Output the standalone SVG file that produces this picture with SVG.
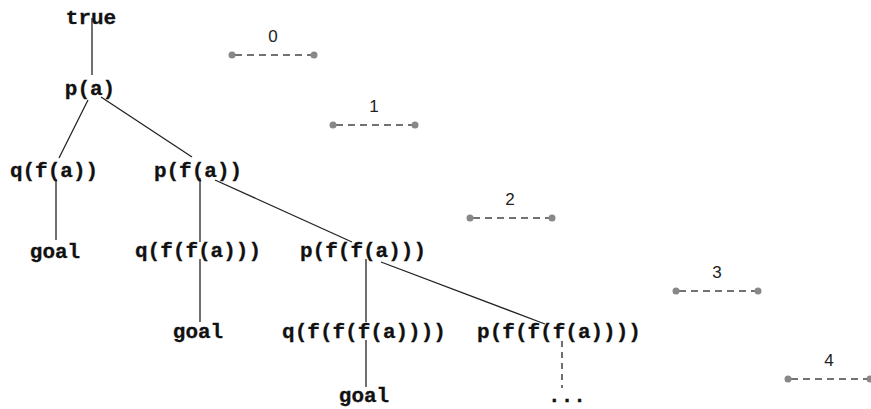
<svg xmlns="http://www.w3.org/2000/svg" width="871" height="409" viewBox="0 0 871 409">
<style>
.t{font-family:"Liberation Mono","Courier New",monospace;font-weight:bold;font-size:21px;fill:#111;text-anchor:middle;stroke:#111;stroke-width:0.3}
.n{font-family:"Liberation Sans",Arial,sans-serif;font-size:17px;fill:#222;text-anchor:middle}
.e{stroke:#222;stroke-width:1.3;fill:none}
.d{stroke:#222;stroke-width:1.3;stroke-dasharray:6 5;fill:none}
.lv{stroke:#444;stroke-width:1.5;stroke-dasharray:7 5;stroke-dashoffset:-3;fill:none}
.dot{fill:#888}
</style>
<rect width="871" height="409" fill="#fff"/>
<g id="connectors">
<line class="e" x1="92" y1="18" x2="92" y2="75"/>
<line class="e" x1="88" y1="100" x2="59" y2="158"/>
<line class="e" x1="101" y1="97" x2="192" y2="157"/>
<line class="e" x1="56" y1="179" x2="56" y2="240"/>
<line class="e" x1="200" y1="178" x2="200" y2="242"/>
<line class="e" x1="215" y1="180" x2="352" y2="242"/>
<line class="e" x1="200" y1="259" x2="200" y2="322"/>
<line class="e" x1="366" y1="259" x2="366" y2="322"/>
<line class="e" x1="381" y1="262" x2="545" y2="324"/>
<line class="e" x1="366" y1="340" x2="366" y2="387"/>
<line class="d" x1="562" y1="341" x2="562" y2="388"/>
</g>
<g id="n-true"><text class="t" x="91" y="24">true</text></g>
<g id="n-pa"><text class="t" x="90" y="95">p(a)</text></g>
<g id="n-qfa"><text class="t" x="54" y="177">q(f(a))</text></g>
<g id="n-pfa"><text class="t" x="198" y="177">p(f(a))</text></g>
<g id="n-goal1"><text class="t" x="55" y="258">goal</text></g>
<g id="n-qffa"><text class="t" x="198" y="257">q(f(f(a)))</text></g>
<g id="n-pffa"><text class="t" x="363" y="257">p(f(f(a)))</text></g>
<g id="n-goal2"><text class="t" x="198" y="338">goal</text></g>
<g id="n-qfffa"><text class="t" x="364" y="338">q(f(f(f(a))))</text></g>
<g id="n-pfffa"><text class="t" x="559" y="338">p(f(f(f(a))))</text></g>
<g id="n-goal3"><text class="t" x="364" y="402">goal</text></g>
<g id="n-more"><text class="t" x="567" y="402">...</text></g>
<g id="level-0"><text class="n" x="273" y="42">0</text><line class="lv" x1="232" y1="55" x2="314" y2="55"/><circle class="dot" cx="232" cy="55" r="3.5"/><circle class="dot" cx="314" cy="55" r="3.5"/></g>
<g id="level-1"><text class="n" x="374" y="112">1</text><line class="lv" x1="333" y1="125" x2="415" y2="125"/><circle class="dot" cx="333" cy="125" r="3.5"/><circle class="dot" cx="415" cy="125" r="3.5"/></g>
<g id="level-2"><text class="n" x="510" y="205">2</text><line class="lv" x1="470" y1="218" x2="552" y2="218"/><circle class="dot" cx="470" cy="218" r="3.5"/><circle class="dot" cx="552" cy="218" r="3.5"/></g>
<g id="level-3"><text class="n" x="717" y="278">3</text><line class="lv" x1="676" y1="291" x2="758" y2="291"/><circle class="dot" cx="676" cy="291" r="3.5"/><circle class="dot" cx="758" cy="291" r="3.5"/></g>
<g id="level-4"><text class="n" x="829" y="366">4</text><line class="lv" x1="788" y1="379" x2="870" y2="379"/><circle class="dot" cx="788" cy="379" r="3.5"/><circle class="dot" cx="870" cy="379" r="3.5"/></g>
</svg>
